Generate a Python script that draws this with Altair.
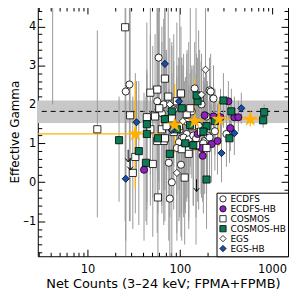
import altair as alt
import pandas as pd

# ---------------- data ----------------
cats = ["ECDFS", "ECDFS-HB", "COSMOS", "COSMOS-HB", "EGS", "EGS-HB"]

ecdfs_x = [28.5, 26, 59, 145, 210, 57, 67, 59, 51, 64, 72, 86, 135, 172, 119, 105, 98, 113, 93, 125,
           76, 103, 82, 78, 320, 186, 156, 232, 216, 195, 172, 240,
           110, 125, 140, 150, 200, 210, 180, 100, 120, 160]
ecdfs_y = [2.51, 2.33, 3.2, 2.41, 2.36, 2.08, 2.0, 1.87, 1.72, 1.77, 1.62, 1.87, 1.82, 2.0, 1.24, 1.13,
           1.03, 0.98, 0.88, 0.85, 0.5, 0.45, 0.0, -0.42, 1.24, 1.06, 0.93, 2.15, 2.33, 1.69, 1.39, 1.31,
           1.15, 1.1, 1.2, 1.12, 1.2, 1.15, 1.0, 1.35, 1.55, 1.45]
ecdfs_hi = [4.5, 4.5, 4.5, 3.6, 3.2, 4.5, 4.2, 3.9, 3.5, 4.0, 3.4, 3.8, 3.0, 3.1, 2.9, 2.8, 3.0, 2.6,
            2.7, 2.5, 2.4, 2.2, 2.0, 1.5, 2.1, 2.5, 2.4, 3.0, 3.3, 2.8, 2.7, 2.4,
            3.3, 3.6, 3.0, 4.5, 2.6, 2.5, 2.9, 4.5, 3.4, 3.9]
ecdfs_lo = [-1.0, -1.9, 1.5, 1.2, 1.4, 0.3, -0.2, 0.0, -0.4, -0.6, -0.3, 0.4, 0.7, 0.9, -0.5, -0.8,
            -1.0, -0.7, -1.3, -0.9, -1.5, -1.4, -1.9, -1.9, 0.4, -0.3, -0.5, 1.3, 1.2, 0.6, 0.2, 0.3,
            -0.9, -1.2, -0.6, -1.6, 0.1, 0.0, -0.8, -0.9, -0.4, -0.7]

ecdfshb_x = [336, 186, 232, 276, 390, 431, 353, 156, 256, 177, 221, 41, 172]
ecdfshb_y = [2.08, 1.72, 1.69, 1.67, 1.67, 1.67, 1.39, 1.24, 1.06, 0.68, 0.98, 0.32, 0.88]
ecdfshb_hi = [2.6, 2.7, 2.5, 2.4, 2.2, 2.1, 2.0, 2.5, 2.0, 1.8, 2.0, 2.3, 2.1]
ecdfshb_lo = [1.6, 0.8, 0.9, 1.0, 1.2, 1.3, 0.8, 0.0, 0.2, -0.5, 0.0, -1.5, -0.4]

cosmos_x = [4.2, 25.6, 12.8, 29, 48, 48, 57, 69, 103, 64, 33, 31, 51, 58, 113, 195, 54, 82, 93, 119,
            72, 98, 135, 86, 67, 125, 164, 44, 69, 57,
            150, 105, 170, 130, 60, 75]
cosmos_y = [5.0, 3.98, 1.36, 1.72, 2.3, 1.36, 2.38, 2.66, 2.28, 1.36, 0.65, 0.24, 0.47, -0.39, 0.12,
            0.88, 1.69, 1.64, 2.08, 1.75, 1.44, 1.44, 1.44, 1.29, 1.06, 0.73, 2.18, 1.67, 1.13, 1.06,
            0.95, 0.85, 1.3, 1.9, 1.9, 2.2]
cosmos_hi = [6.0, 4.5, 3.9, 4.5, 4.5, 3.8, 4.5, 4.5, 4.0, 3.6, 2.8, 2.2, 2.5, 1.8, 1.9, 2.3, 3.8, 3.5,
             4.1, 3.3, 3.3, 3.2, 2.9, 3.1, 3.0, 2.4, 3.4, 4.1, 3.2, 3.3,
             2.8, 3.2, 3.1, 4.5, 4.5, 4.5]
cosmos_lo = [2.0, -1.0, -0.9, -1.0, 0.2, -0.6, 0.5, 1.0, 0.8, -0.8, -0.8, -1.2, -1.4, -1.9, -1.6, -0.3,
             -0.3, 0.0, 0.6, 0.3, -0.5, -0.2, 0.1, -0.7, -1.1, -1.0, 1.0, -0.5, -1.0, -1.3,
             -0.9, -1.5, -0.3, 0.4, -0.2, 0.3]

cosmoshb_x = [22, 44, 44, 58, 36, 43, 78, 195, 297, 362, 820, 800, 345, 105, 156, 152, 69, 93, 129,
              195, 240, 82, 115, 140, 180]
cosmoshb_y = [1.08, 1.49, 1.24, 1.13, 0.8, 0.5, 0.73, 0.07, 2.1, 1.82, 1.8, 1.59, 1.13, 1.9, 2.08,
              2.23, 1.62, 1.36, 1.47, 1.44, 1.57, 1.82, 1.0, 0.95, 1.3]
cosmoshb_hi = [2.2, 2.9, 2.8, 2.9, 2.6, 2.2, 2.3, 1.4, 2.8, 2.4, 2.0, 1.8, 1.8, 3.2, 3.2, 3.3, 3.4,
               3.0, 2.8, 2.5, 2.4, 3.6, 2.7, 2.5, 2.6]
cosmoshb_lo = [-0.5, -0.7, -1.1, -0.8, -1.1, -1.0, -0.9, -1.2, 1.4, 1.2, 1.6, 1.4, 0.5, 0.6, 1.0, 1.2,
               -0.2, -0.3, 0.2, 0.4, 0.7, 0.1, -0.8, -0.6, 0.0]

egs_x = [190, 93, 78, 108, 172]
egs_y = [2.89, 0.24, 2.0, 1.57, 2.25]
egs_hi = [4.5, 2.0, 3.7, 3.0, 3.3]
egs_lo = [1.5, -1.5, 0.3, 0.0, 1.0]

egshb_x = [34, 69, 26, 283, 464, 390, 98, 82]
egshb_y = [1.54, 3.04, 0.09, 0.75, 1.9, 1.26, 2.08, 1.34]
egshb_hi = [2.6, 4.5, 1.6, 1.5, 2.3, 1.8, 3.2, 2.8]
egshb_lo = [0.2, 1.7, -1.5, 0.0, 1.5, 0.7, 0.8, -0.4]

# upper limits (arrows)
ul_x = [27.6, 29, 152]
ul_y = [0.68, 0.47, -0.08]

# stacked averages (stars)
star_x = [33, 88, 145, 265, 580]
star_y = [1.24, 1.47, 1.57, 1.62, 1.62]
star_xlo = [2, 64, 113, 195, 390]
star_xhi = [64, 113, 186, 390, 820]
star_ylo = [-0.16, 0.75, 0.8, 0.93, 1.44]
star_yhi = [2.59, 2.53, 2.66, 2.08, 1.82]

band_lo = [1.52]
band_hi = [2.10]
band_mid = [1.82]

# ---------------- build tables ----------------
groups = [
    ("ECDFS", ecdfs_x, ecdfs_y, ecdfs_lo, ecdfs_hi),
    ("ECDFS-HB", ecdfshb_x, ecdfshb_y, ecdfshb_lo, ecdfshb_hi),
    ("COSMOS", cosmos_x, cosmos_y, cosmos_lo, cosmos_hi),
    ("COSMOS-HB", cosmoshb_x, cosmoshb_y, cosmoshb_lo, cosmoshb_hi),
    ("EGS", egs_x, egs_y, egs_lo, egs_hi),
    ("EGS-HB", egshb_x, egshb_y, egshb_lo, egshb_hi),
]
rows = []
for name, xs_, ys_, los, his in groups:
    for a, b, c, d in zip(xs_, ys_, los, his):
        rows.append({"x": a, "y": b, "lo": c, "hi": d, "survey": name})
df = pd.DataFrame(rows)
ul_df = pd.DataFrame({"x": ul_x, "y": ul_y})
star_df = pd.DataFrame({"x": star_x, "y": star_y, "xlo": star_xlo, "xhi": star_xhi,
                        "ylo": star_ylo, "yhi": star_yhi})
band_df = pd.DataFrame({"lo": band_lo, "hi": band_hi})
mid_df = pd.DataFrame({"g": band_mid})

# ---------------- styling ----------------
W, H = 252, 251
XDOM = [2.9, 1486]
YDOM = [-1.9, 4.5]
ORANGE = "#FFB000"
FONT = "DejaVu Sans"
xs = alt.Scale(type="log", domain=XDOM, nice=False)
ys = alt.Scale(domain=YDOM, nice=False, zero=False)

x_ticks = [m * 10 ** e for e in range(0, 4) for m in range(1, 10) if XDOM[0] <= m * 10 ** e <= XDOM[1]]
y_ticks = [round(-1.8 + 0.2 * i, 1) for i in range(32)]
x_test = "datum.value == 10 || datum.value == 100 || datum.value == 1000"
y_test = "abs(datum.value - round(datum.value)) < 0.01"


def tick_axis(orient, offset, values, test):
    return alt.Axis(orient=orient, offset=offset, values=values, labels=False, domain=False,
                    grid=False, title=None, ticks=True, tickColor="black", tickWidth=1,
                    tickSize={"condition": {"test": test, "value": 7}, "value": 4})


x_label_axis = alt.Axis(orient="bottom", values=[10, 100, 1000], format="d", ticks=False,
                        domain=False, grid=False, labelPadding=7, labelFontSize=11.5,
                        title="Net Counts (3–24 keV; FPMA+FPMB)", titlePadding=3, titleFontSize=13)
y_label_axis = alt.Axis(orient="left", values=[-1, 0, 1, 2, 3, 4], ticks=False, domain=False,
                        grid=False, labelPadding=2, labelFontSize=11.5,
                        labelExpr="replace(datum.label, '−', '–')",
                        title="Effective Gamma", titlePadding=1, titleFontSize=12)

band = alt.Chart(band_df).mark_rect(color="#c8c8c8").encode(
    y=alt.Y("lo:Q", scale=ys, axis=None), y2="hi:Q",
    x=alt.value(0), x2=alt.value("width"))

mid = alt.Chart(mid_df).mark_rule(color="black", strokeDash=[5, 4], strokeWidth=1).encode(
    y=alt.Y("g:Q", scale=ys, axis=None))

err = alt.Chart(df).mark_rule(color="#999999", strokeWidth=1, clip=True).encode(
    x=alt.X("x:Q", scale=xs, axis=x_label_axis),
    y=alt.Y("lo:Q", scale=ys, axis=y_label_axis), y2="hi:Q")

xerr = alt.Chart(star_df).mark_rule(color=ORANGE, strokeWidth=1.3, clip=True).encode(
    x=alt.X("xlo:Q", scale=xs, axis=tick_axis("top", -H, x_ticks, x_test)), x2="xhi:Q",
    y=alt.Y("y:Q", scale=ys, axis=tick_axis("right", -W, y_ticks, y_test)))

yerr = alt.Chart(star_df).mark_rule(color=ORANGE, strokeWidth=1.3, clip=True).encode(
    x=alt.X("x:Q", scale=xs, axis=tick_axis("bottom", -H, x_ticks, x_test)),
    y=alt.Y("ylo:Q", scale=ys, axis=tick_axis("left", -W, y_ticks, y_test)), y2="yhi:Q")

leg = alt.Legend(
    title=None, clipHeight=8.5, rowPadding=0, padding=2, labelFontSize=9, symbolSize=40,
    symbolStrokeColor="black", symbolStrokeWidth=0.8, labelOffset=3,
)
points = alt.Chart(df).mark_point(filled=True, strokeWidth=0.8, size=52,
                                  opacity=1, clip=True).encode(
    x=alt.X("x:Q", scale=xs, axis=None),
    y=alt.Y("y:Q", scale=ys, axis=None),
    shape=alt.Shape("survey:N", scale=alt.Scale(domain=cats,
                    range=["circle", "circle", "square", "square", "diamond", "diamond"]), legend=leg),
    fill=alt.Fill("survey:N", scale=alt.Scale(domain=cats,
                  range=["white", "#9020C0", "white", "#0B7A55", "white", "#1450B4"]), legend=leg),
    stroke=alt.Stroke("survey:N", scale=alt.Scale(domain=cats, range=["black"] * 6), legend=leg),
)

arrow_path = "M0,-1L0,1M-0.45,0.45L0,1L0.45,0.45"
arrows = alt.Chart(ul_df).mark_point(shape=arrow_path, filled=False, stroke="black",
                                     strokeWidth=1, size=150, opacity=1).encode(
    x=alt.X("x:Q", scale=xs, axis=None), y=alt.Y("y:Q", scale=ys, axis=None))

star_path = ("M0,-1L0.2245,-0.309L0.951,-0.309L0.363,0.118L0.588,0.809L0,0.382L-0.588,0.809"
             "L-0.363,0.118L-0.951,-0.309L-0.2245,-0.309Z")
stars = alt.Chart(star_df).mark_point(shape=star_path, filled=True, fill=ORANGE, strokeWidth=0,
                                      size=260, opacity=1).encode(
    x=alt.X("x:Q", scale=xs, axis=None), y=alt.Y("y:Q", scale=ys, axis=None))

chart = alt.layer(band, mid, err, xerr, yerr, points, arrows, stars).resolve_axis(
    x="independent", y="independent"
).properties(
    width=W, height=H, padding={"left": 0, "top": -3, "right": 0, "bottom": 0}
).configure_view(
    stroke="black", strokeWidth=1
).configure_axis(
    labelFont=FONT, titleFont=FONT, labelColor="black", titleColor="black",
    titleFontWeight="normal"
).configure_legend(
    orient="bottom-right", offset=0, strokeColor="black", fillColor="white",
    labelFont=FONT, labelColor="black"
)

chart.save("out.html", embed_options={"renderer": "svg", "actions": False})
